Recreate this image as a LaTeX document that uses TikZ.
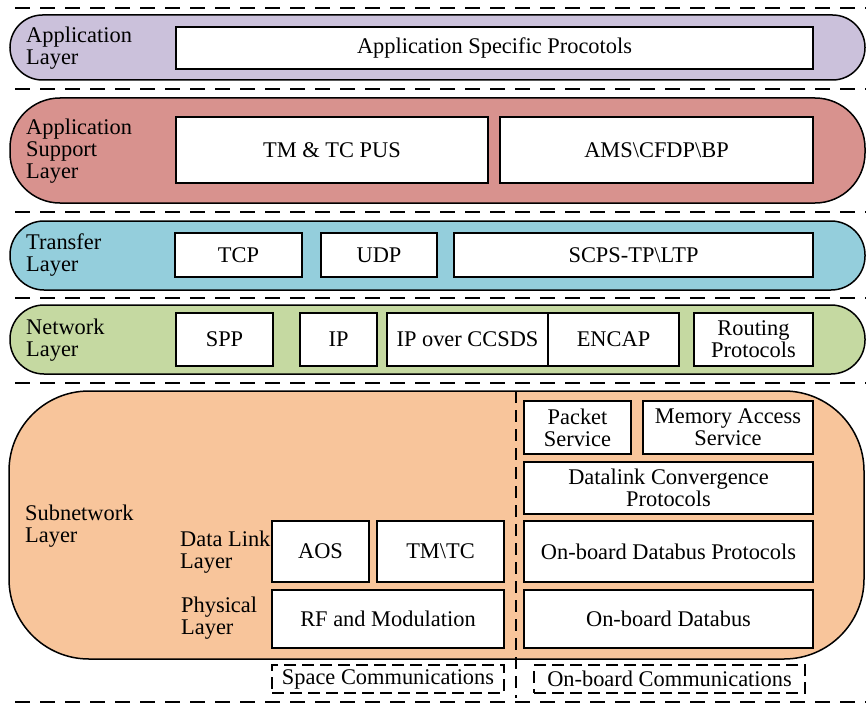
\documentclass[tikz,border=0pt]{standalone}
\usepackage{fontspec}
\setmainfont{Liberation Serif}
\definecolor{appcol}{HTML}{CBC1DB}
\definecolor{supportcol}{HTML}{D8928E}
\definecolor{transfercol}{HTML}{94CEDC}
\definecolor{networkcol}{HTML}{C5D9A1}
\definecolor{subnetcol}{HTML}{F8C59B}

\begin{document}
\begin{tikzpicture}[x=1pt, y=-1pt,
        every node/.style={font=\fontsize{22.4}{22}\selectfont},
        layer/.style={draw, line width=1.5pt},
        box/.style={draw, fill=white, line width=2pt, align=center, inner sep=0pt},
        layertext/.style={anchor=west, align=left, inner sep=0pt},
        sepline/.style={line width=2pt, dash pattern=on 15pt off 10pt},
        commbox/.style={draw, line width=1.5pt, dash pattern=on 12pt off 6pt, inner sep=0pt}]
        \useasboundingbox (0,0) rectangle (866,706);

        % separators
        \foreach \y in {8,89,212,298,383,702}
            \draw[sepline] (15,\y) -- (866,\y);

        % layers
        \node[layer, fill=appcol, minimum width=855, minimum height=65, rounded corners=32.5] (AppLayer) at (437.5,47.5) {};
        \node[layer, fill=supportcol, minimum width=855, minimum height=105, rounded corners=50] (SupportLayer) at (437.5,150.5) {};
        \node[layer, fill=transfercol, minimum width=855, minimum height=69, rounded corners=34] (TransferLayer) at (437.5,255.5) {};
        \node[layer, fill=networkcol, minimum width=855, minimum height=69, rounded corners=34] (NetworkLayer) at (437.5,339.5) {};
        \node[layer, fill=subnetcol, minimum width=855, minimum height=268, rounded corners=80] (SubnetLayer) at (436.5,525) {};

        \node[layertext] (AppText) at (26,48) {Application\\Layer};
        \node[layertext] (SupportText) at (26,151) {Application\\Support\\Layer};
        \node[layertext] (TransferText) at (26,255.5) {Transfer\\Layer};
        \node[layertext] (NetworkText) at (26,340) {Network\\Layer};
        \node[layertext] (SubnetText) at (25,526) {Subnetwork\\Layer};
        \node[layertext] (DataLinkText) at (180,552) {Data Link\\Layer};
        \node[layertext] (PhysicalText) at (181,618.5) {Physical\\Layer};

        % application
        \node[box, minimum width=637, minimum height=42] (Specific) at (494.5,48) {Application Specific Procotols};

        % application support
        \node[box, minimum width=312, minimum height=66] (PUS) at (332,150) {TM \& TC PUS};
        \node[box, minimum width=313, minimum height=66] (AMS) at (656.5,150) {AMS\textbackslash CFDP\textbackslash BP};

        % transfer
        \node[box, minimum width=127, minimum height=44] (TCP) at (238.5,255) {TCP};
        \node[box, minimum width=116, minimum height=44] (UDP) at (379,255) {UDP};
        \node[box, minimum width=359, minimum height=44] (SCPS) at (633.5,255) {SCPS-TP\textbackslash LTP};

        % network
        \node[box, minimum width=97, minimum height=53] (SPP) at (224.5,339.5) {SPP};
        \node[box, minimum width=77, minimum height=53] (IP) at (338.5,339.5) {IP};
        \node[box, minimum width=161, minimum height=53] (IPoC) at (467.5,339.5) {IP over CCSDS};
        \node[box, minimum width=131, minimum height=53] (ENCAP) at (613.5,339.5) {ENCAP};
        \node[box, minimum width=119, minimum height=53] (Routing) at (753.5,339.5) {Routing\\Protocols};

        % subnetwork, space side
        \node[box, minimum width=97, minimum height=61] (AOS) at (320.5,551.5) {AOS};
        \node[box, minimum width=127, minimum height=61] (TMTC) at (440.5,551.5) {TM\textbackslash TC};
        \node[box, minimum width=232, minimum height=58] (RF) at (388,619) {RF and Modulation};

        % subnetwork, on-board side
        \node[box, minimum width=107, minimum height=53] (Packet) at (577.5,427.5) {Packet\\Service};
        \node[box, minimum width=170, minimum height=53] (Memory) at (728,427.5) {Memory Access\\Service};
        \node[box, minimum width=289, minimum height=52] (Convergence) at (668.5,488) {Datalink Convergence\\Protocols};
        \node[box, minimum width=289, minimum height=61] (DatabusProt) at (668.5,551.5) {On-board Databus Protocols};
        \node[box, minimum width=289, minimum height=58] (Databus) at (668.5,619) {On-board Databus};

        \draw[line width=1.5pt, dash pattern=on 12pt off 7pt] (516,391) -- (516,698);

        \node[commbox, minimum width=232, minimum height=28] (SpaceComm) at (388,679) {Space Communications};
        \node[commbox, minimum width=271, minimum height=28] (BoardComm) at (669.5,679) {On-board Communications};
\end{tikzpicture}
\end{document}
